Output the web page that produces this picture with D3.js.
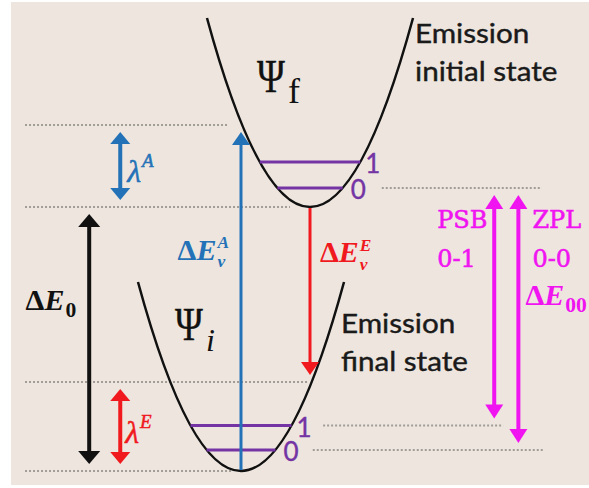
<!DOCTYPE html>
<html>
<head>
<meta charset="utf-8">
<script src="https://cdn.jsdelivr.net/npm/d3@7"></script>
<style>
  html, body { margin: 0; padding: 0; background: #fff; }
  svg { display: block; }
</style>
</head>
<body>
<div id="chart"></div>
<script>
// Energies are in units of ΔE0 (minimum of Ψi = 0, minimum of Ψf = 1),
// Q is the nuclear coordinate (Ψi minimum at 0, Ψf minimum at 1).

// Potential wells
const wellNames = ['i', 'f'];
const wellMinQ = [0, 1];
const wellMinE = [0, 1];
const wellTopE = [0.716, 1.716];
const wellHalfWidth = [1.493, 1.493];

// Vibrational levels
const levelWell = [1, 1, 0, 0];
const levelLabels = ['0', '1', '0', '1'];
const levelE = [1.072, 1.170, 0.080, 0.172];

// Dotted guide lines
const guideE = [1.311, 1.0, 1.072, 0.337, 0.172, 0.080, 0];
const guideFromQ = [-3.13, -3.13, 2.04, -3.13, 1.19, 1.04, -3.13];
const guideToQ = [-0.19, 0.71, 4.36, 0.96, 3.80, 4.38, -0.12];

// Transition arrows
const arrowNames = ['dE0', 'lamA', 'lamE', 'dEvA', 'dEvE', 'PSB', 'ZPL'];
const arrowQ = [-2.20, -1.75, -1.75, 0, 1, 3.67, 4.02];
const arrowFromE = [0, 1.0, 0, 0, 1.0, 1.072, 1.072];
const arrowToE = [1.0, 1.311, 0.337, 1.311, 0.337, 0.172, 0.080];
const arrowHeads = ['both', 'both', 'both', 'end', 'end', 'both', 'both'];

const W = 589, H = 488;
const BG = '#eee6de';
const COLORS = {
  dE0: '#111111', lamA: '#2372b8', lamE: '#f0191e', dEvA: '#2372b8',
  dEvE: '#f0191e', PSB: '#f014f0', ZPL: '#f014f0'
};
const PURPLE = '#7434a4';

const x = d3.scaleLinear().domain([0, 1]).range([241, 310]);
const y = d3.scaleLinear().domain([0, 1]).range([471, 207]);

const svg = d3.select('#chart').append('svg')
  .attr('width', W)
  .attr('height', H)
  .attr('viewBox', `0 0 ${W} ${H}`);

svg.append('rect')
  .attr('x', 11).attr('y', 2)
  .attr('width', W - 11).attr('height', 483)
  .attr('fill', BG);

const g = svg.append('g');

// Guide lines
g.selectAll('.guide')
  .data(guideE)
  .join('line')
  .attr('class', 'guide')
  .attr('x1', (d, i) => x(guideFromQ[i]))
  .attr('x2', (d, i) => x(guideToQ[i]))
  .attr('y1', d => y(d))
  .attr('y2', d => y(d))
  .attr('stroke', '#a09c98')
  .attr('stroke-width', 2)
  .attr('stroke-dasharray', '2,2');

// Wells drawn as exact parabolas (quadratic Bezier through the two rims)
wellNames.forEach((name, i) => {
  const depth = wellTopE[i] - wellMinE[i];
  const p = d3.path();
  p.moveTo(x(wellMinQ[i] - wellHalfWidth[i]), y(wellTopE[i]));
  p.quadraticCurveTo(x(wellMinQ[i]), y(wellMinE[i] - depth),
    x(wellMinQ[i] + wellHalfWidth[i]), y(wellTopE[i]));
  g.append('path')
    .attr('d', p.toString())
    .attr('fill', 'none')
    .attr('stroke', '#111')
    .attr('stroke-width', 2.5);
});

// Vibrational levels, ending on the well walls
function levelHalf(i) {
  const w = levelWell[i];
  return wellHalfWidth[w] * Math.sqrt((levelE[i] - wellMinE[w]) / (wellTopE[w] - wellMinE[w]));
}

g.selectAll('.level')
  .data(levelE)
  .join('line')
  .attr('class', 'level')
  .attr('x1', (d, i) => x(wellMinQ[levelWell[i]] - levelHalf(i)))
  .attr('x2', (d, i) => x(wellMinQ[levelWell[i]] + levelHalf(i)))
  .attr('y1', d => y(d))
  .attr('y2', d => y(d))
  .attr('stroke', PURPLE)
  .attr('stroke-width', 3);

g.selectAll('.level-label')
  .data(levelE)
  .join('text')
  .attr('class', 'level-label')
  .attr('x', (d, i) => x(wellMinQ[levelWell[i]] + levelHalf(i)) + (levelLabels[i] === '1' ? 5 : 8))
  .attr('y', d => y(d) + 11)
  .attr('font-family', 'Lato, sans-serif')
  .attr('font-size', 26)
  .attr('fill', PURPLE)
  .attr('stroke', PURPLE)
  .attr('stroke-width', 0.4)
  .text((d, i) => levelLabels[i]);

// Arrows
const ARROW_STYLE = {
  dE0: { w: 4, hw: 11, len: 13 },
  lamA: { w: 4, hw: 10, len: 12 },
  lamE: { w: 4, hw: 10, len: 12 },
  dEvA: { w: 3, hw: 9, len: 13 },
  dEvE: { w: 3, hw: 9, len: 13 },
  PSB: { w: 4, hw: 9, len: 14 },
  ZPL: { w: 4, hw: 9, len: 14 }
};

function drawArrow(name, i) {
  const st = ARROW_STYLE[name];
  const color = COLORS[name];
  const xp = x(arrowQ[i]);
  const dir = Math.sign(y(arrowToE[i]) - y(arrowFromE[i])); // +1 = down
  const both = arrowHeads[i] === 'both';
  const yStart = y(arrowFromE[i]) + dir * (both ? 7 : 1);
  const yEnd = y(arrowToE[i]) - dir * 7;

  const s1 = both ? yStart + dir * (st.len - 2) : yStart;
  const s2 = yEnd - dir * (st.len - 2);
  g.append('line')
    .attr('x1', xp).attr('x2', xp)
    .attr('y1', s1).attr('y2', s2)
    .attr('stroke', color)
    .attr('stroke-width', st.w);

  const head = (tip, d) => {
    const base = tip - d * st.len;
    g.append('path')
      .attr('d', `M${xp},${tip}L${xp - st.hw},${base}L${xp + st.hw},${base}Z`)
      .attr('fill', color);
  };
  head(yEnd, dir);
  if (both) head(yStart, -dir);
}

arrowNames.forEach(drawArrow);

// Text helpers
const SERIF = '"Liberation Serif", "Times New Roman", serif';
const MATH = '"DejaVu Serif", serif';

function mathLabel(px, py, base, sup, sub, color, size, anchor) {
  const grp = g.append('g').attr('fill', color).attr('font-family', SERIF);
  const main = grp.append('text')
    .attr('x', px).attr('y', py)
    .attr('font-size', size)
    .attr('font-weight', 'bold');
  main.append('tspan').text(base[0]);
  main.append('tspan').attr('font-style', 'italic').text(base.slice(1));
  const w = main.node().getComputedTextLength();
  let extra = 0;
  if (sup) {
    const t = grp.append('text')
      .attr('x', px + w + 1).attr('y', py - size * 0.38)
      .attr('font-size', size * 0.58)
      .attr('font-weight', 'bold')
      .attr('font-style', 'italic')
      .text(sup);
    extra = Math.max(extra, t.node().getComputedTextLength() + 1);
  }
  if (sub) {
    const digit = /\d/.test(sub);
    const t = grp.append('text')
      .attr('x', px + w + 1).attr('y', py + size * (sup ? 0.24 : 0.22))
      .attr('font-size', size * (digit ? 0.72 : 0.58))
      .attr('font-weight', 'bold')
      .attr('font-style', digit ? 'normal' : 'italic')
      .text(sub);
    extra = Math.max(extra, t.node().getComputedTextLength() + 1);
  }
  if (anchor === 'end') grp.attr('transform', `translate(${-(w + extra)},0)`);
}

// ΔE labels
mathLabel(x(arrowQ[0]) - 13, y(0.61), 'ΔE', null, '0', COLORS.dE0, 30, 'end');
mathLabel(x(arrowQ[3]) - 12, y(0.80), 'ΔE', 'A', 'v', COLORS.dEvA, 30, 'end');
mathLabel(x(arrowQ[4]) + 10, y(0.79), 'ΔE', 'E', 'v', COLORS.dEvE, 30, 'start');
mathLabel(x(arrowQ[6]) + 7, y(0.628), 'ΔE', null, '00', COLORS.ZPL, 30, 'start');

// λ labels
function lambdaLabel(px, py, sup, color) {
  const t = g.append('text')
    .attr('x', px).attr('y', py)
    .attr('fill', color)
    .attr('stroke', color)
    .attr('stroke-width', 0.5)
    .attr('font-family', SERIF)
    .attr('font-style', 'italic')
    .attr('font-size', 32);
  t.append('tspan').text('λ');
  t.append('tspan').attr('font-size', 19).attr('dx', 1).attr('dy', -15).text(sup);
}
lambdaLabel(x(arrowQ[1]) + 7, y(1.093), 'A', COLORS.lamA);
lambdaLabel(x(arrowQ[2]) + 5, y(0.106), 'E', COLORS.lamE);

// PSB / ZPL labels
function stackLabel(px, lines, baselines, color) {
  lines.forEach((s, k) => {
    g.append('text')
      .attr('x', px).attr('y', baselines[k])
      .attr('fill', color)
      .attr('stroke', color)
      .attr('stroke-width', 0.6)
      .attr('font-family', MATH)
      .attr('font-size', 24)
      .text(s);
  });
}
stackLabel(x(arrowQ[5]) - 57, ['PSB', '0-1'], [y(0.920), y(0.772)], COLORS.PSB);
stackLabel(x(arrowQ[6]) + 14, ['ZPL', '0-0'], [y(0.920), y(0.772)], COLORS.ZPL);

// Wavefunction labels
function psiLabel(px, py, sub, italic) {
  g.append('text')
    .attr('transform', `translate(${px},${py}) scale(0.82,1)`)
    .attr('fill', '#111')
    .attr('stroke', '#111')
    .attr('stroke-width', 0.4)
    .attr('font-family', SERIF)
    .attr('font-size', 46)
    .text('Ψ');
  g.append('text')
    .attr('x', px + 31).attr('y', py + 11)
    .attr('fill', '#111')
    .attr('font-family', SERIF)
    .attr('font-size', italic ? 32 : 36)
    .attr('font-style', italic ? 'italic' : 'normal')
    .text(sub);
}
psiLabel(x(wellMinQ[1]) - 53, y(wellMinE[1]) - 115, wellNames[1], false);
psiLabel(x(wellMinQ[0]) - 66, y(wellMinE[0]) - 131, wellNames[0], true);

// State captions (stretched a little to match the original's wide glyphs)
function caption(px, py, lines) {
  lines.forEach((s, k) => {
    g.append('text')
      .attr('transform', `translate(${px},${py + k * 38}) scale(1.14,1)`)
      .attr('fill', '#1a1a1a')
      .attr('stroke', '#1a1a1a')
      .attr('stroke-width', 0.4)
      .attr('font-family', 'Lato, sans-serif')
      .attr('font-size', 26)
      .text(s);
  });
}
caption(x(wellMinQ[1] + wellHalfWidth[1]) + 2, 43, ['Emission', 'initial state']);
caption(x(wellMinQ[0] + wellHalfWidth[0]) - 3, 333, ['Emission', 'final state']);
</script>
</body>
</html>
